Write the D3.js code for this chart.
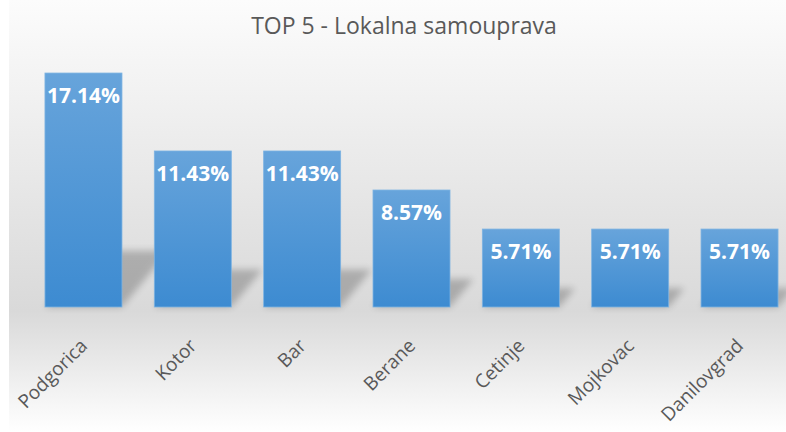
<!DOCTYPE html>
<html>
<head>
<meta charset="utf-8">
<script src="https://cdn.jsdelivr.net/npm/d3@7"></script>
<style>
  body { margin: 0; background: #fff; }
  svg { display: block; font-family: "Open Sans", sans-serif; }
</style>
</head>
<body>
<svg id="chart" width="786" height="432"></svg>
<script>
const cities = ["Podgorica", "Kotor", "Bar", "Berane", "Cetinje", "Mojkovac", "Danilovgrad"];
const shares = [17.14, 11.43, 11.43, 8.57, 5.71, 5.71, 5.71];
const title = "TOP 5 - Lokalna samouprava";

const width = 786, height = 432;
const baseY = 307;

let svg = d3.select("#chart");
let defs = svg.append("defs");

let bg = defs.append("linearGradient").attr("id", "bg")
  .attr("x1", 0).attr("y1", 0).attr("x2", 0).attr("y2", 1);
bg.append("stop").attr("offset", "0%").attr("stop-color", "#fcfcfc");
bg.append("stop").attr("offset", "72%").attr("stop-color", "#d9d9d9");
bg.append("stop").attr("offset", "100%").attr("stop-color", "#ffffff");

let barGrad = defs.append("linearGradient").attr("id", "barGrad")
  .attr("x1", 0).attr("y1", 0).attr("x2", 0).attr("y2", 1);
barGrad.append("stop").attr("offset", "0%").attr("stop-color", "#67a4db");
barGrad.append("stop").attr("offset", "100%").attr("stop-color", "#3d8bd1");

defs.append("filter").attr("id", "blur")
  .attr("x", "-50%").attr("y", "-50%").attr("width", "200%").attr("height", "200%")
  .append("feGaussianBlur").attr("stdDeviation", 3.5);

svg.append("rect")
  .attr("x", 9).attr("y", 0)
  .attr("width", width).attr("height", height)
  .attr("fill", "url(#bg)");

svg.append("text")
  .attr("x", 404).attr("y", 34)
  .attr("text-anchor", "middle")
  .attr("fill", "#595959")
  .style("font-size", "23px")
  .text(title);

let x = d3.scaleBand()
  .domain(cities)
  .range([28.8, 794.2])
  .paddingInner(0.2957)
  .paddingOuter(0.1478);

let y = d3.scaleLinear()
  .domain([0, 18])
  .range([baseY, baseY - 18 * 13.65]);

// perspective shadows
svg.append("g").selectAll("path")
  .data(cities)
  .enter().append("path")
  .attr("filter", "url(#blur)")
  .attr("fill", "#000")
  .attr("opacity", 0.22)
  .attr("d", (d, i) => {
    let h = baseY - y(shares[i]);
    let dy = h * 0.24, dx = h * 0.2;
    let xl = x(d), xr = x(d) + x.bandwidth();
    return `M${xl},${baseY}L${xr},${baseY}L${xr + dx},${baseY - dy}L${xl + dx},${baseY - dy}Z`;
  });

let bars = svg.append("g").selectAll("g")
  .data(cities)
  .enter().append("g");

bars.append("rect")
  .attr("x", d => x(d))
  .attr("y", (d, i) => y(shares[i]))
  .attr("width", x.bandwidth())
  .attr("height", (d, i) => baseY - y(shares[i]))
  .attr("fill", "url(#barGrad)")
  .attr("stroke", "#7db3e2")
  .attr("stroke-width", 0.8);

bars.append("text")
  .attr("x", d => x(d) + x.bandwidth() / 2)
  .attr("y", (d, i) => y(shares[i]) + 30)
  .attr("text-anchor", "middle")
  .attr("fill", "#fff")
  .style("font-size", "21px")
  .style("font-weight", "bold")
  .text((d, i) => shares[i].toFixed(2) + "%");

let axis = svg.append("g")
  .attr("transform", `translate(0,${baseY})`)
  .call(d3.axisBottom(x).tickSize(0));

axis.select(".domain").remove();
axis.selectAll("text")
  .attr("fill", "#595959")
  .style("font-size", "19px")
  .style("font-family", "Open Sans, sans-serif")
  .attr("text-anchor", "end")
  .attr("dy", null)
  .attr("y", 0)
  .attr("transform", "translate(5,40) rotate(-45)");
</script>
</body>
</html>
